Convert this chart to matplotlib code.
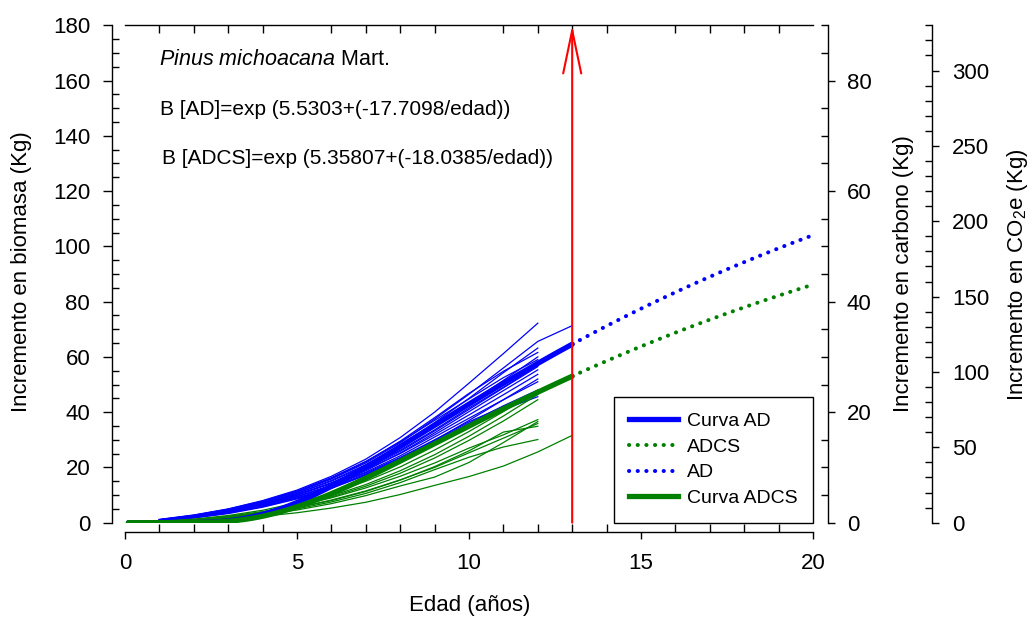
import numpy as np
import matplotlib
matplotlib.use("Agg")
import matplotlib.pyplot as plt
from matplotlib.lines import Line2D
from matplotlib.ticker import MultipleLocator

plt.rcParams["font.family"] = ["Liberation Sans", "DejaVu Sans"]
plt.rcParams["mathtext.fontset"] = "custom"
plt.rcParams["mathtext.rm"] = "Liberation Sans"
plt.rcParams["mathtext.it"] = "Liberation Sans:italic"

# Tree age (years) for the measured series
AGES = [1, 2, 3, 4, 5, 6, 7, 8, 9, 10, 11, 12, 13]

# Biomass increment (kg) of individual trees, dry-wood basis (AD)
AD_TREES = [
    [1.2, 2.8, 5.0, 8.0, 11.8, 16.8, 23.0, 30.8, 40.0, 50.5, 61.2, 72.2],
    [1.0, 2.5, 4.6, 7.4, 11.0, 15.8, 21.6, 28.9, 37.5, 46.5, 56.0, 65.6, 71.3],
    [0.9, 2.3, 4.3, 7.0, 10.6, 15.3, 21.0, 28.0, 36.2, 45.0, 54.3, 63.2],
    [1.1, 2.6, 4.8, 7.6, 11.2, 16.0, 22.0, 29.5, 38.0, 46.8, 54.8, 61.6],
    [0.8, 2.0, 3.9, 6.5, 9.9, 14.4, 20.0, 26.8, 34.8, 43.2, 51.5, 60.0],
    [1.0, 2.4, 4.4, 7.1, 10.6, 15.0, 20.6, 27.3, 35.0, 42.5, 50.0, 58.0],
    [0.9, 2.2, 4.1, 6.7, 10.0, 14.2, 19.4, 25.8, 33.2, 41.0, 48.8, 56.5],
    [0.7, 1.9, 3.7, 6.2, 9.4, 13.6, 18.8, 25.2, 32.5, 40.2, 47.8, 55.3],
    [1.0, 2.5, 4.5, 7.0, 10.2, 14.3, 19.2, 25.0, 31.8, 39.0, 46.3, 53.7],
    [0.8, 2.1, 3.9, 6.3, 9.4, 13.4, 18.3, 24.2, 31.0, 37.8, 44.5, 51.0],
    [0.9, 2.2, 4.0, 6.4, 9.5, 13.4, 18.0, 23.6, 30.0, 36.5, 42.0, 46.8],
    [0.7, 1.8, 3.5, 5.8, 8.8, 12.6, 17.3, 22.8, 29.0, 35.5, 41.0, 45.6],
    [1.1, 2.7, 4.9, 7.8, 11.5, 16.3, 22.2, 29.2, 37.0, 44.8, 52.5, 59.0],
    [0.6, 1.7, 3.3, 5.6, 8.6, 12.4, 17.2, 23.0, 29.8, 37.0, 44.5, 52.0],
    [0.9, 2.3, 4.2, 6.8, 10.1, 14.4, 19.8, 26.2, 33.6, 41.5, 49.0, 57.0],
    [0.8, 2.0, 3.7, 6.0, 9.0, 12.9, 17.6, 23.3, 29.6, 36.0, 42.3, 48.0],
]

# Biomass increment (kg) of individual trees, dry-wood-without-bark basis (ADCS)
ADCS_TREES = [
    [0.5, 1.3, 2.6, 4.5, 7.2, 10.6, 15.0, 20.2, 26.3, 33.0, 40.2, 48.0],
    [0.4, 1.1, 2.3, 4.0, 6.5, 9.7, 13.8, 18.8, 24.6, 31.3, 38.6, 46.4],
    [0.4, 1.0, 2.1, 3.7, 6.0, 9.0, 12.6, 16.8, 21.6, 27.0, 31.8, 37.3],
    [0.3, 0.9, 1.9, 3.4, 5.5, 8.2, 11.5, 15.5, 20.0, 25.3, 30.6, 35.9],
    [0.3, 0.9, 1.8, 3.3, 5.4, 8.0, 11.3, 15.4, 20.3, 26.0, 32.8, 34.9],
    [0.3, 0.8, 1.7, 3.1, 5.0, 7.5, 10.6, 14.5, 19.2, 23.7, 27.4, 30.1],
    [0.2, 0.6, 1.3, 2.3, 3.6, 5.3, 7.4, 10.2, 13.5, 16.7, 20.5, 25.6, 31.6],
    [0.3, 0.8, 1.6, 2.9, 4.6, 6.9, 9.8, 13.3, 16.5, 21.8, 29.0, 36.6],
    [0.4, 1.0, 2.2, 3.9, 6.2, 9.3, 13.2, 17.9, 23.4, 29.8, 36.8, 44.5],
]

# Fitted model B = exp(b0 + b1/edad)
AD_COEF = (5.5303, -17.7098)
ADCS_COEF = (5.35807, -18.0385)
AGE_START = 0.1
AGE_OBS = 13
AGE_MAX = 20

BLUE = "#0000ff"
GREEN = "#008000"

W, H = 1035, 619
fig = plt.figure(figsize=(W / 100, H / 100), dpi=100)
ax = fig.add_axes([125 / W, 1 - 522.7 / H, 688 / W, 497.4 / H])


def model(coef, t):
    return np.exp(coef[0] + coef[1] / t)


for tree in AD_TREES:
    ax.plot(AGES[:len(tree)], tree, color=BLUE, lw=0.9)
for tree in ADCS_TREES:
    ax.plot(AGES[:len(tree)], tree, color=GREEN, lw=0.9)

t_obs = np.linspace(AGE_START, AGE_OBS, 200)
t_proj = np.linspace(AGE_OBS, AGE_MAX, 100)
dots = dict(lw=2.9, dashes=(0.05, 2.1), dash_capstyle="round")

ax.plot(t_obs, model(AD_COEF, t_obs), color=BLUE, lw=3.8, solid_capstyle="round")
ax.plot(t_obs, model(ADCS_COEF, t_obs), color=GREEN, lw=3.8, solid_capstyle="round")
ax.plot(t_proj, model(AD_COEF, t_proj), color=BLUE, **dots)
ax.plot(t_proj, model(ADCS_COEF, t_proj), color=GREEN, **dots)

# observation limit
ax.annotate("", xy=(AGE_OBS, 180), xytext=(AGE_OBS, 0),
            arrowprops=dict(arrowstyle="->,head_length=3.1,head_width=0.65",
                            color="red", lw=1.5, shrinkA=0, shrinkB=0,
                            mutation_scale=10))

ax.set_xlim(0, AGE_MAX)
ax.set_ylim(0, 180)
ax.xaxis.set_major_locator(MultipleLocator(5))
ax.xaxis.set_minor_locator(MultipleLocator(1))
ax.yaxis.set_major_locator(MultipleLocator(20))
ax.yaxis.set_minor_locator(MultipleLocator(5))

ax.spines["right"].set_visible(False)
ax.spines["left"].set_position(("outward", 9.6))
ax.spines["bottom"].set_position(("outward", 6.7))
for s in ax.spines.values():
    s.set_linewidth(1.0)

ax.tick_params(axis="y", which="major", direction="out", length=6.5, width=1.0,
               labelsize=16, pad=9)
ax.tick_params(axis="y", which="minor", direction="in", length=5, width=1.0)
ax.tick_params(axis="x", which="major", direction="out", length=5, width=1.0,
               labelsize=16, pad=10, top=False)
ax.tick_params(axis="x", which="minor", direction="in", length=6, width=1.0, top=True)

# carbon and CO2e scales
ax_c = ax.twinx()
ax_c.set_ylim(0, 90)
ax_c.yaxis.set_major_locator(MultipleLocator(20))
ax_c.yaxis.set_minor_locator(MultipleLocator(5))

ax_co2 = ax.twinx()
ax_co2.set_ylim(0, 330)
ax_co2.yaxis.set_major_locator(MultipleLocator(50))
ax_co2.yaxis.set_minor_locator(MultipleLocator(10))

for a, off, pad in [(ax_c, 10.8, 8.6), (ax_co2, 85.7, 9.4)]:
    for side in ("left", "top", "bottom"):
        a.spines[side].set_visible(False)
    a.spines["right"].set_position(("outward", off))
    a.spines["right"].set_linewidth(1.0)
    a.tick_params(axis="y", which="major", direction="out", length=5, width=1.0,
                  labelsize=16, pad=pad)
    a.tick_params(axis="y", which="minor", direction="in", length=5, width=1.0)

# axis titles
fig.text(470 / W, 1 - 605 / H, "Edad (años)", fontsize=16, ha="center", va="center")
fig.text(22 / W, 1 - 272 / H, "Incremento en biomasa (Kg)", fontsize=16,
         rotation=90, ha="center", va="center")
fig.text(903 / W, 1 - 274 / H, "Incremento en carbono (Kg)", fontsize=16,
         rotation=90, ha="center", va="center")
fig.text(1017 / W, 1 - 275 / H, "Incremento en CO$_2$e (Kg)", fontsize=16,
         rotation=90, ha="center", va="center")

# species and fitted equations
fig.text(159 / W, 1 - 65 / H, r"$\it{Pinus\ michoacana}$ Mart.", fontsize=15.5,
         va="baseline")
fig.text(160 / W, 1 - 115 / H,
         f"B [AD]=exp ({AD_COEF[0]}+({AD_COEF[1]}/edad))", fontsize=15,
         va="baseline")
fig.text(162 / W, 1 - 164 / H,
         f"B [ADCS]=exp ({ADCS_COEF[0]}+({ADCS_COEF[1]}/edad))", fontsize=15,
         va="baseline")

handles = [
    Line2D([], [], color=BLUE, lw=3.8),
    Line2D([], [], color=GREEN, **dots),
    Line2D([], [], color=BLUE, **dots),
    Line2D([], [], color=GREEN, lw=3.8),
]
labels = ["Curva AD", "ADCS", "AD", "Curva ADCS"]
leg = ax.legend(handles, labels, loc="lower right", bbox_to_anchor=(1.0, 0.0),
                borderaxespad=0, fontsize=14, handlelength=2.5,
                handletextpad=0.45, borderpad=0.8, labelspacing=0.42,
                fancybox=False, framealpha=1, edgecolor="black")
leg.get_frame().set_linewidth(1.0)

fig.savefig("out.png", dpi=100, facecolor="white")
